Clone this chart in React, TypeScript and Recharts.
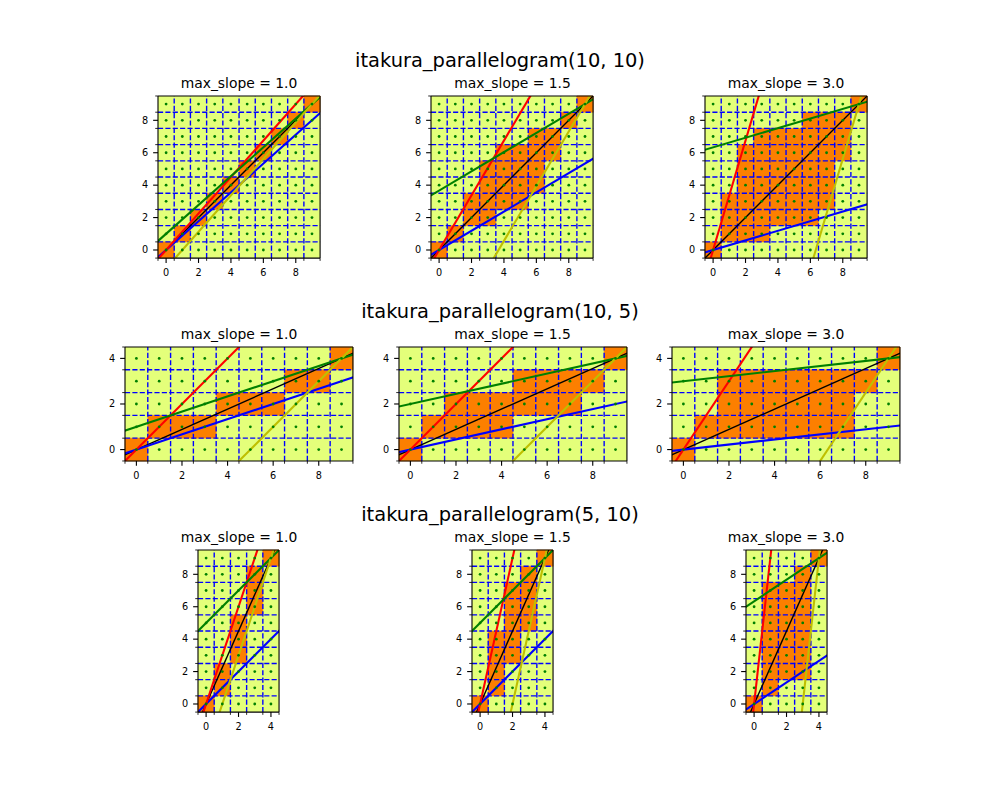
import React from 'react';
import {
  ComposedChart,
  XAxis,
  YAxis,
  ReferenceArea,
  ReferenceLine,
  Line,
  Scatter,
} from 'recharts';

const FONT = '"DejaVu Sans", Verdana, sans-serif';

// one row per pair of series lengths [n_timestamps_1, n_timestamps_2]
const rowSizes: [number, number][] = [
  [10, 10],
  [10, 5],
  [5, 10],
];
const rowTitles = [
  'itakura_parallelogram(10, 10)',
  'itakura_parallelogram(10, 5)',
  'itakura_parallelogram(5, 10)',
];
const colTitles = ['max_slope = 1.0', 'max_slope = 1.5', 'max_slope = 3.0'];

// slopes of the parallelogram sides (after rescaling), [row][col]
const steepSlopes = [
  [1.125, 1.6875, 3.375],
  [1, 1, 1.5],
  [3, 4.5, 9],
];
const shallowSlopes = [
  [0.8889, 0.5926, 0.2963],
  [0.3333, 0.2222, 0.1111],
  [1, 1, 0.6667],
];

// allowed cells: [first row, last row] for each column
const regions10x10: [number, number][][] = [
  [[0, 0], [1, 1], [2, 2], [3, 3], [4, 4], [5, 5], [6, 6], [7, 7], [8, 8], [9, 9]],
  [[0, 0], [1, 1], [2, 3], [2, 5], [3, 6], [3, 6], [4, 7], [6, 7], [8, 8], [9, 9]],
  [[0, 0], [1, 3], [1, 6], [1, 7], [2, 7], [2, 7], [2, 8], [3, 8], [6, 8], [9, 9]],
];
const regions10x5: [number, number][][] = [
  [[0, 0], [1, 1], [1, 1], [1, 1], [2, 2], [2, 2], [2, 2], [3, 3], [3, 3], [4, 4]],
  [[0, 0], [1, 1], [1, 2], [1, 2], [1, 2], [2, 3], [2, 3], [2, 3], [3, 3], [4, 4]],
  [[0, 0], [1, 1], [1, 3], [1, 3], [1, 3], [1, 3], [1, 3], [1, 3], [3, 3], [4, 4]],
];
const regions5x10: [number, number][][] = [
  [[0, 0], [1, 2], [3, 5], [6, 8], [9, 9]],
  [[0, 0], [1, 4], [3, 7], [5, 8], [9, 9]],
  [[0, 0], [1, 7], [2, 7], [2, 8], [9, 9]],
];
const regions = [regions10x10, regions10x5, regions5x10];

// tick positions by axis length
const majorTicks: Record<number, number[]> = {
  5: [0, 2, 4],
  10: [0, 2, 4, 6, 8],
};
const minorTicks: Record<number, number[]> = {
  5: [-0.5, 0.5, 1.5, 2.5, 3.5, 4.5],
  10: [-0.5, 0.5, 1.5, 2.5, 3.5, 4.5, 5.5, 6.5, 7.5, 8.5, 9.5],
};

const LOW = '#e4ff7a';
const HIGH = '#fc7f00';
const PT = 100 / 72;

// subplot grid (figure fractions 0.125/0.9/0.11/0.88, wspace .2, hspace .4)
const FIG_LEFT = 125;
const FIG_RIGHT = 900;
const FIG_TOP = 96;
const FIG_BOTTOM = 712;
const slotW = (FIG_RIGHT - FIG_LEFT) / 3.4;
const slotH = (FIG_BOTTOM - FIG_TOP) / 3.8;

function panelBox(row: number, col: number, n1: number, n2: number) {
  const sx = FIG_LEFT + col * slotW * 1.2;
  const sy = FIG_TOP + row * slotH * 1.4;
  const unit = Math.min(slotW / n1, slotH / n2);
  const w = unit * n1;
  const h = unit * n2;
  return { left: sx + (slotW - w) / 2, top: sy + (slotH - h) / 2, w, h };
}

const PAD_L = 34;
const PAD_T = 4;
const PAD_R = 6;
const PAD_B = 24;
const TICK_SIZE = 3.5 * PT;
const TICK_MARGIN = 3.5 * PT;
const TICK_FS = 9.7;

const XTick = (props: any) => {
  const { x, y, payload } = props;
  const v = payload.value as number;
  const major = Number.isInteger(v);
  const y0 = y - TICK_SIZE - TICK_MARGIN;
  return (
    <g>
      <line
        x1={x}
        x2={x}
        y1={y0}
        y2={y0 + (major ? 3.5 : 2) * PT}
        stroke="#000"
        strokeWidth={(major ? 0.8 : 0.6) * PT}
      />
      {major && (
        <text x={x} y={y0 + 17.6} textAnchor="middle" fontSize={TICK_FS} fontFamily={FONT} fill="#000">
          {v}
        </text>
      )}
    </g>
  );
};

const YTick = (props: any) => {
  const { x, y, payload } = props;
  const v = payload.value as number;
  const major = Number.isInteger(v);
  const x0 = x + TICK_SIZE + TICK_MARGIN;
  return (
    <g>
      <line
        x1={x0}
        x2={x0 - (major ? 3.5 : 2) * PT}
        y1={y}
        y2={y}
        stroke="#000"
        strokeWidth={(major ? 0.8 : 0.6) * PT}
      />
      {major && (
        <text x={x0 - 9.8} y={y + 3.2} textAnchor="end" fontSize={TICK_FS} fontFamily={FONT} fill="#000">
          {v}
        </text>
      )}
    </g>
  );
};

const Dot = (props: any) => <circle cx={props.cx} cy={props.cy} r={1.4} fill="#008000" />;

function Panel({ row, col }: { row: number; col: number }) {
  const [n1, n2] = rowSizes[row];
  const box = panelBox(row, col, n1, n2);
  const region = regions[row][col];
  const steep = steepSlopes[row][col];
  const shallow = shallowSlopes[row][col];
  const xMax = n1 - 0.5;
  const yMax = n2 - 0.5;
  const xEnd = n1 - 1;
  const yEnd = n2 - 1;

  const lineThrough = (x0: number, y0: number, slope: number) => [
    { x: -1, y: y0 + slope * (-1 - x0) },
    { x: n1, y: y0 + slope * (n1 - x0) },
  ];
  const diag = [
    { x: -1, y: -yEnd / xEnd },
    { x: n1, y: (yEnd / xEnd) * n1 },
  ];

  const centers: { x: number; y: number }[] = [];
  for (let i = 0; i < n1; i++) for (let j = 0; j < n2; j++) centers.push({ x: i, y: j });

  const xGrid = minorTicks[n1].filter((v) => v > -0.5 && v < xMax);
  const yGrid = minorTicks[n2].filter((v) => v > -0.5 && v < yMax);

  return (
    <div style={{ position: 'absolute', left: box.left - PAD_L, top: box.top - PAD_T }}>
      <ComposedChart
        width={box.w + PAD_L + PAD_R}
        height={box.h + PAD_T + PAD_B}
        margin={{ top: PAD_T, right: PAD_R, bottom: 0, left: 0 }}
      >
        <ReferenceArea x1={-0.5} x2={xMax} y1={-0.5} y2={yMax} fill={LOW} fillOpacity={1} stroke="none" />
        {region.map(([lo, hi], i) => (
          <ReferenceArea
            key={`c${i}`}
            x1={i - 0.5}
            x2={i + 0.5}
            y1={lo - 0.5}
            y2={hi + 0.5}
            fill={HIGH}
            fillOpacity={1}
            stroke={HIGH}
            strokeWidth={0.6}
          />
        ))}
        {xGrid.map((v) => (
          <ReferenceLine key={`gx${v}`} x={v} stroke="#0000ff" strokeWidth={PT} strokeDasharray="5.14 2.22" />
        ))}
        {yGrid.map((v) => (
          <ReferenceLine key={`gy${v}`} y={v} stroke="#0000ff" strokeWidth={PT} strokeDasharray="5.14 2.22" />
        ))}
        <Line data={diag} dataKey="y" type="linear" stroke="#000" strokeWidth={PT} dot={false} activeDot={false} isAnimationActive={false} />
        <Line data={lineThrough(0, 0, shallow)} dataKey="y" type="linear" stroke="#0000ff" strokeWidth={1.5 * PT} dot={false} activeDot={false} isAnimationActive={false} />
        <Line data={lineThrough(0, 0, steep)} dataKey="y" type="linear" stroke="#ff0000" strokeWidth={1.5 * PT} dot={false} activeDot={false} isAnimationActive={false} />
        <Line data={lineThrough(xEnd, yEnd, shallow)} dataKey="y" type="linear" stroke="#008000" strokeWidth={1.5 * PT} dot={false} activeDot={false} isAnimationActive={false} />
        <Line data={lineThrough(xEnd, yEnd, steep)} dataKey="y" type="linear" stroke="#bfbf00" strokeWidth={1.5 * PT} dot={false} activeDot={false} isAnimationActive={false} />
        <ReferenceLine y={yMax} stroke="#000" strokeWidth={0.8 * PT} />
        <ReferenceLine x={xMax} stroke="#000" strokeWidth={0.8 * PT} />
        <XAxis
          dataKey="x"
          type="number"
          domain={[-0.5, xMax]}
          allowDataOverflow
          ticks={[...minorTicks[n1], ...majorTicks[n1]]}
          interval={0}
          height={PAD_B}
          tickSize={TICK_SIZE}
          tickMargin={TICK_MARGIN}
          tickLine={false}
          axisLine={{ stroke: '#000', strokeWidth: 0.8 * PT }}
          tick={(p: any) => <XTick {...p} />}
        />
        <YAxis
          dataKey="y"
          type="number"
          domain={[-0.5, yMax]}
          allowDataOverflow
          ticks={[...minorTicks[n2], ...majorTicks[n2]]}
          interval={0}
          width={PAD_L}
          tickSize={TICK_SIZE}
          tickMargin={TICK_MARGIN}
          tickLine={false}
          axisLine={{ stroke: '#000', strokeWidth: 0.8 * PT }}
          tick={(p: any) => <YTick {...p} />}
        />
        <Scatter data={centers} shape={Dot} isAnimationActive={false} />
      </ComposedChart>
    </div>
  );
}

export default function App() {
  const cells: { row: number; col: number }[] = [];
  for (let r = 0; r < 3; r++) for (let c = 0; c < 3; c++) cells.push({ row: r, col: c });

  return (
    <div
      style={{
        position: 'absolute',
        left: 0,
        top: 0,
        width: 1000,
        height: 800,
        background: '#fff',
        fontFamily: FONT,
        overflow: 'hidden',
      }}
    >
      {cells.map(({ row, col }) => (
        <Panel key={`${row}-${col}`} row={row} col={col} />
      ))}
      <svg
        width={1000}
        height={800}
        style={{ position: 'absolute', left: 0, top: 0, pointerEvents: 'none' }}
      >
        {rowTitles.map((t, r) => {
          const [n1, n2] = rowSizes[r];
          const top = panelBox(r, 1, n1, n2).top;
          return (
            <text key={t} x={500} y={top - 29} textAnchor="middle" fontSize={14 * PT} fontFamily={FONT} fill="#000">
              {t}
            </text>
          );
        })}
        {rowSizes.map(([n1, n2], r) =>
          colTitles.map((t, c) => {
            const b = panelBox(r, c, n1, n2);
            return (
              <text
                key={`${r}-${c}`}
                x={b.left + b.w / 2}
                y={b.top - 6 * PT}
                textAnchor="middle"
                fontSize={10 * PT}
                fontFamily={FONT}
                fill="#000"
              >
                {t}
              </text>
            );
          })
        )}
      </svg>
    </div>
  );
}
